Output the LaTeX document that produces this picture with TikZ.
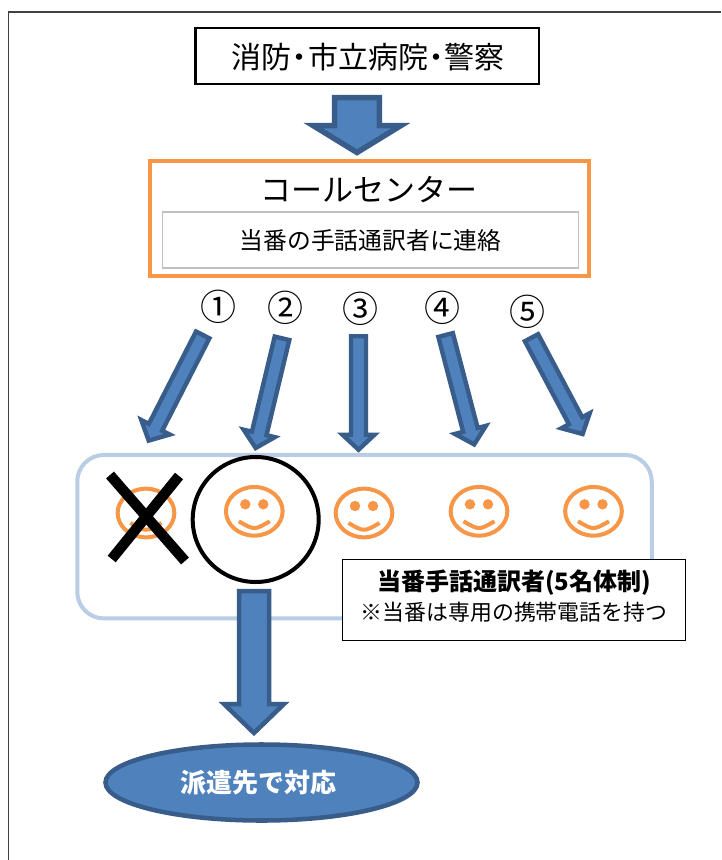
\documentclass[tikz,border=0pt]{standalone}
\usepackage{fontspec}
\setmainfont{Noto Sans CJK JP}
\usetikzlibrary{calc,shapes.geometric}
\definecolor{blfill}{HTML}{4F81BD}
\definecolor{blline}{HTML}{385D8A}
\definecolor{orng}{HTML}{F79646}
\definecolor{ltblue}{HTML}{B9CDE5}
\definecolor{grayb}{HTML}{BFBFBF}
\def\pxu{0.75pt}
\newcommand{\pxfont}[1]{\pgfmathsetmacro\tmpfs{#1*0.75}\fontsize{\tmpfs pt}{\tmpfs pt}\selectfont}
\tikzset{
  x=0.75pt,y=-0.75pt,
  boxnode/.style={rectangle,inner sep=0pt,outer sep=0pt,anchor=center},
  numlabel/.style={inner sep=0pt,font=\pxfont{36}},
  blockarrow/.style={fill=blfill,draw=blline,line join=miter},
  facering/.style={ellipse,draw=orng,line width=3pt,minimum width=42.5pt,minimum height=36.5pt,inner sep=0pt},
}
% tail coordinate, tip coordinate, half shaft, half head, head length (px)
\newcommand{\blockarrow}[6]{%
  \coordinate (hb#1#2) at ($(#2)!#5*\pxu!(#1)$);
  \draw[blockarrow,line width=#6*\pxu]
    ($(#1)!#3*\pxu!90:(#2)$) -- ($(hb#1#2)!#3*\pxu!90:(#2)$) -- ($(hb#1#2)!#4*\pxu!90:(#2)$)
    -- (#2) -- ($(hb#1#2)!#4*\pxu!-90:(#2)$) -- ($(hb#1#2)!#3*\pxu!-90:(#2)$)
    -- ($(#1)!#3*\pxu!-90:(#2)$) -- cycle;}
\newcommand{\smiley}[3]{%
  \node[facering] (#1) at (#2,#3) {};
  \fill[orng] (#2-9,#3-7) circle[radius=5.2];
  \fill[orng] (#2+9,#3-7) circle[radius=5.2];
  \draw[orng,line width=3pt] (#2-15.5,#3+10) .. controls (#2,#3+19) .. (#2+15.5,#3+10);}
\begin{document}
\begin{tikzpicture}
\useasboundingbox (0,0) rectangle (721,860);
\fill[white] (0,0) rectangle (721,860);
% page frame
\coordinate (fa) at (8.5,860);
\coordinate (fb) at (8.5,12);
\coordinate (fc) at (721,12);
\draw[black!75,line width=0.9pt] (fa) -- (fb) -- (fc);
% top boxes
\node[boxnode,draw=black,line width=1.6pt,minimum width=343.5*\pxu,minimum height=56*\pxu] (src) at (367.3,56) {};
\node[inner sep=0pt,font=\pxfont{30}] (srct) at (368,57) {消防\kern-.22em・\kern-.22em市立病院\kern-.22em・\kern-.22em警察};
\node[boxnode,draw=orng,line width=3pt,minimum width=439*\pxu,minimum height=114.7*\pxu] (call) at (369.5,218.3) {};
\node[boxnode,draw=grayb,line width=1.1pt,minimum width=416*\pxu,minimum height=56*\pxu,font=\pxfont{23.8}] (task) at (370.5,240) {当番の手話通訳者に連絡};
\node[inner sep=0pt,font=\pxfont{31}] (callt) at (369,190) {コールセンター};
% arrow src -> call
\coordinate (t0) at (357,97.7);
\coordinate (e0) at (357,152.5);
\blockarrow{t0}{e0}{22.3}{44}{27}{5.5}
% numbers
\node[numlabel] (n1) at (218.3,307.3) {①};
\node[numlabel] (n2) at (285,308.3) {②};
\node[numlabel] (n3) at (360,309.3) {③};
\node[numlabel] (n4) at (442.7,308.3) {④};
\node[numlabel] (n5) at (527.7,311.7) {⑤};
% group of interpreters
\node[boxnode,draw=ltblue,line width=3pt,rounded corners=20pt,minimum width=574.5*\pxu,minimum height=163.5*\pxu] (grp) at (364.5,536.7) {};
% thin arrows
\coordinate (t1) at (202.7,334.9); \coordinate (e1) at (148.7,440.6);
\coordinate (t2) at (282,338.3);   \coordinate (e2) at (255.7,448);
\coordinate (t3) at (358.5,336.2); \coordinate (e3) at (358.5,449.7);
\coordinate (t4) at (445.6,335);   \coordinate (e4) at (474.2,444.4);
\coordinate (t5) at (531.5,337.7); \coordinate (e5) at (582.6,434);
\blockarrow{t1}{e1}{7.5}{16}{15}{4.4}
\blockarrow{t2}{e2}{7.5}{16}{15}{4.4}
\blockarrow{t3}{e3}{7.5}{16}{15}{4.4}
\blockarrow{t4}{e4}{7.5}{16}{15}{4.4}
\blockarrow{t5}{e5}{7.5}{16}{15}{4.4}
% faces
\smiley{f1}{146}{513}
\smiley{f2}{254.3}{511.3}
\smiley{f3}{364}{513}
\smiley{f4}{479}{511.3}
\smiley{f5}{593.5}{511.3}
% cross
\coordinate (xa) at (110,475); \coordinate (xb) at (185,561);
\coordinate (xc) at (179,476); \coordinate (xd) at (111.7,559);
\draw[black,line width=7.8pt] (xa) -- (xb);
\draw[black,line width=7.8pt] (xc) -- (xd);
% selected circle
\node[ellipse,draw=black,line width=3pt,inner sep=0pt,minimum width=126*\pxu,minimum height=125*\pxu] (sel) at (255.7,519.5) {};
% note
\node[boxnode,fill=white,draw=black,line width=1pt,minimum width=343*\pxu,minimum height=81.4*\pxu] (note) at (513.8,600) {};
\node[inner sep=0pt,font=\pxfont{24}\bfseries] (notea) at (514,583) {当番手話通訳者(5名体制)};
\node[inner sep=0pt,font=\pxfont{21.9}] (noteb) at (514,612.7) {※当番は専用の携帯電話を持つ};
% arrow down
\coordinate (t6) at (254,591.2);
\coordinate (e6) at (254,733);
\blockarrow{t6}{e6}{15}{30}{29}{4.5}
% destination
\node[ellipse,fill=blfill,draw=blline,line width=3.4pt,inner sep=0pt,minimum width=312*\pxu,minimum height=76*\pxu,text=white,font=\pxfont{26}\bfseries] (dest) at (261.5,782.5) {\hspace*{-5pt}派遣先で対応};
\end{tikzpicture}
\end{document}
